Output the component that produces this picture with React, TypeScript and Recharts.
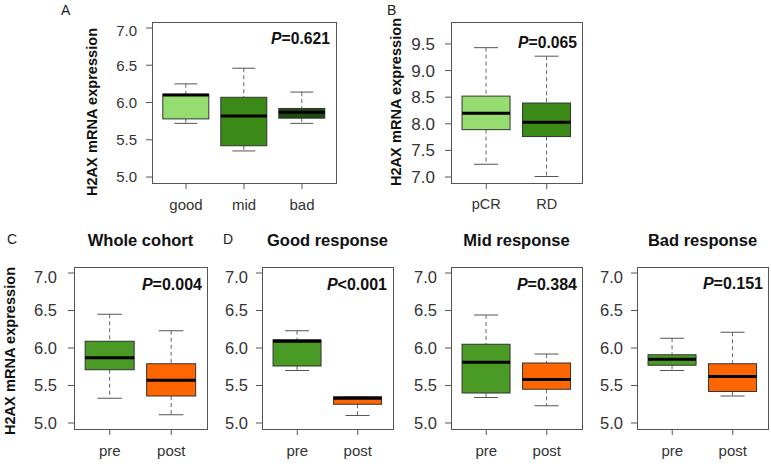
import React from 'react'
import { ComposedChart, Bar, XAxis, YAxis } from 'recharts'

// A: response groups
const groupsA = ['good', 'mid', 'bad']
const lowA = [5.72, 5.35, 5.72]
const q1A = [5.78, 5.42, 5.79]
const medA = [6.1, 5.82, 5.87]
const q3A = [6.11, 6.07, 5.92]
const highA = [6.25, 6.46, 6.14]

// B: pCR vs RD
const groupsB = ['pCR', 'RD']
const lowB = [7.24, 7.01]
const q1B = [7.89, 7.76]
const medB = [8.2, 8.03]
const q3B = [8.52, 8.39]
const highB = [9.43, 9.27]

// C / D: pre vs post
const prePost = ['pre', 'post']
const lowWhole = [5.33, 5.11]
const q1Whole = [5.71, 5.36]
const medWhole = [5.87, 5.57]
const q3Whole = [6.09, 5.79]
const highWhole = [6.45, 6.23]

const lowGood = [5.7, 5.1]
const q1Good = [5.76, 5.25]
const medGood = [6.09, 5.33]
const q3Good = [6.11, 5.35]
const highGood = [6.23, 5.35]

const lowMid = [5.34, 5.23]
const q1Mid = [5.4, 5.45]
const medMid = [5.81, 5.58]
const q3Mid = [6.05, 5.8]
const highMid = [6.44, 5.92]

const lowBad = [5.7, 5.36]
const q1Bad = [5.77, 5.42]
const medBad = [5.85, 5.62]
const q3Bad = [5.91, 5.79]
const highBad = [6.13, 6.21]

const ticks57 = [5, 5.5, 6, 6.5, 7]
const ticksB = [7, 7.5, 8, 8.5, 9, 9.5]

const FONT = '"Liberation Sans", Arial, Helvetica, sans-serif'
const LIGHT = '#95dd70'
const MID = '#3b8a17'
const DARK = '#1b4c10'
const PRE = '#4a9a26'
const POST = '#ff6600'

const rowsOf = (cats: string[], low: number[], q1: number[], med: number[], q3: number[], high: number[]) =>
  cats.map((name, i) => ({ name, range: [low[i], high[i]], low: low[i], q1: q1[i], med: med[i], q3: q3[i], high: high[i] }))

const BoxShape = (props: any) => {
  const { x, y, width, height, payload, index, colors } = props
  const lo = payload.low
  const hi = payload.high
  const toY = (v: number) => (hi === lo ? y : y + ((hi - v) / (hi - lo)) * height)
  const cx = x + width / 2
  const cap = width / 4
  const yq1 = toY(payload.q1)
  const yq3 = toY(payload.q3)
  const ymed = toY(payload.med)
  return (
    <g>
      <line x1={cx} x2={cx} y1={toY(hi)} y2={yq3} stroke="#666" strokeDasharray="4 3" />
      <line x1={cx} x2={cx} y1={yq1} y2={toY(lo)} stroke="#666" strokeDasharray="4 3" />
      <line x1={cx - cap} x2={cx + cap} y1={toY(hi)} y2={toY(hi)} stroke="#555" />
      <line x1={cx - cap} x2={cx + cap} y1={toY(lo)} y2={toY(lo)} stroke="#555" />
      <rect x={x} y={yq3} width={width} height={Math.max(yq1 - yq3, 0)} fill={colors[index]} stroke="#333" />
      <line x1={x} x2={x + width} y1={ymed} y2={ymed} stroke="#000" strokeWidth={3} />
    </g>
  )
}

const YW = 50
const XH = 34

type Frame = { left: number; top: number; w: number; h: number }

const Panel = ({ rows, frame, domain, ticks, colors, yFont, xFont, yMargin }: any) => {
  const f: Frame = frame
  return (
    <div style={{ position: 'absolute', left: f.left - YW, top: f.top }}>
      <ComposedChart
        width={f.w + YW}
        height={f.h + XH}
        data={rows}
        margin={{ top: 0, right: 0, left: 0, bottom: 0 }}
        barCategoryGap="10%"
      >
        <XAxis
          dataKey="name"
          interval={0}
          height={XH}
          padding={{ left: 5, right: 5 }}
          axisLine={false}
          tickLine={{ stroke: '#555' }}
          tickSize={6}
          tickMargin={10}
          tick={{ fill: '#333', fontSize: xFont, fontFamily: FONT }}
        />
        <YAxis
          type="number"
          domain={domain}
          ticks={ticks}
          allowDataOverflow
          width={YW}
          axisLine={false}
          tickLine={{ stroke: '#555' }}
          tickSize={6}
          tickMargin={yMargin}
          tickFormatter={(v: number) => v.toFixed(1)}
          tick={{ fill: '#333', fontSize: yFont, fontFamily: FONT }}
        />
        <Bar dataKey="range" isAnimationActive={false} shape={(p: any) => <BoxShape {...p} colors={colors} />} />
      </ComposedChart>
    </div>
  )
}

const frameA = { left: 152, top: 22, w: 184, h: 161 }
const frameB = { left: 451, top: 22, w: 131, h: 161 }
const frameC = { left: 74, top: 267, w: 133, h: 162 }
const frameGood = { left: 262, top: 267, w: 131, h: 162 }
const frameMid = { left: 451, top: 267, w: 131, h: 162 }
const frameBad = { left: 637, top: 267, w: 131, h: 162 }

const PText = ({ x, y, op, val, size }: any) => (
  <text x={x} y={y} textAnchor="end" fontFamily={FONT} fontWeight="bold" fontSize={size} fill="#111">
    <tspan fontStyle="italic">P</tspan>
    {op + val}
  </text>
)

const YLabel = ({ x, y }: any) => (
  <text
    x={x}
    y={y}
    transform={`rotate(-90 ${x} ${y})`}
    textAnchor="middle"
    fontFamily={FONT}
    fontWeight="bold"
    fontSize={14.6}
    fill="#111"
  >
    H2AX mRNA expression
  </text>
)

const App = () => {
  const frames = [frameA, frameB, frameC, frameGood, frameMid, frameBad]
  const bottomTitles = [
    ['Whole cohort', frameC],
    ['Good response', frameGood],
    ['Mid response', frameMid],
    ['Bad response', frameBad],
  ] as const
  return (
    <div style={{ position: 'absolute', left: 0, top: 0, width: 771, height: 466, background: '#fff' }}>
      <Panel
        rows={rowsOf(groupsA, lowA, q1A, medA, q3A, highA)}
        frame={frameA}
        domain={[4.92, 7.08]}
        ticks={ticks57}
        colors={[LIGHT, MID, DARK]}
        yFont={15}
        xFont={15}
        yMargin={9}
      />
      <Panel
        rows={rowsOf(groupsB, lowB, q1B, medB, q3B, highB)}
        frame={frameB}
        domain={[6.888, 9.912]}
        ticks={ticksB}
        colors={[LIGHT, MID]}
        yFont={17}
        xFont={14.5}
        yMargin={10}
      />
      <Panel
        rows={rowsOf(prePost, lowWhole, q1Whole, medWhole, q3Whole, highWhole)}
        frame={frameC}
        domain={[4.92, 7.08]}
        ticks={ticks57}
        colors={[PRE, POST]}
        yFont={16.5}
        xFont={15}
        yMargin={11}
      />
      <Panel
        rows={rowsOf(prePost, lowGood, q1Good, medGood, q3Good, highGood)}
        frame={frameGood}
        domain={[4.92, 7.08]}
        ticks={ticks57}
        colors={[PRE, POST]}
        yFont={16.5}
        xFont={15}
        yMargin={8}
      />
      <Panel
        rows={rowsOf(prePost, lowMid, q1Mid, medMid, q3Mid, highMid)}
        frame={frameMid}
        domain={[4.92, 7.08]}
        ticks={ticks57}
        colors={[PRE, POST]}
        yFont={16.5}
        xFont={15}
        yMargin={8}
      />
      <Panel
        rows={rowsOf(prePost, lowBad, q1Bad, medBad, q3Bad, highBad)}
        frame={frameBad}
        domain={[4.92, 7.08]}
        ticks={ticks57}
        colors={[PRE, POST]}
        yFont={16.5}
        xFont={15}
        yMargin={8}
      />
      <svg width={771} height={466} style={{ position: 'absolute', left: 0, top: 0, pointerEvents: 'none' }}>
        {frames.map((f, i) => (
          <rect key={i} x={f.left + 0.5} y={f.top + 0.5} width={f.w} height={f.h} fill="none" stroke="#555" />
        ))}
        <text x={61} y={15} fontFamily={FONT} fontSize={14} fill="#222">A</text>
        <text x={387} y={15} fontFamily={FONT} fontSize={14} fill="#222">B</text>
        <text x={7} y={244} fontFamily={FONT} fontSize={14} fill="#222">C</text>
        <text x={223} y={244} fontFamily={FONT} fontSize={14} fill="#222">D</text>
        {bottomTitles.map(([t, f]) => (
          <text key={t} x={f.left + f.w / 2} y={246} textAnchor="middle" fontFamily={FONT} fontWeight="bold" fontSize={16.5} fill="#111">
            {t}
          </text>
        ))}
        <PText x={330} y={44} op="=" val="0.621" size={15.7} />
        <PText x={577} y={48} op="=" val="0.065" size={15.7} />
        <PText x={202} y={290} op="=" val="0.004" size={16} />
        <PText x={387} y={290} op="<" val="0.001" size={16} />
        <PText x={577} y={290} op="=" val="0.384" size={16} />
        <PText x={763} y={289} op="=" val="0.151" size={16} />
        <YLabel x={97} y={112} />
        <YLabel x={401} y={102} />
        <YLabel x={15} y={351} />
      </svg>
    </div>
  )
}

export default App
